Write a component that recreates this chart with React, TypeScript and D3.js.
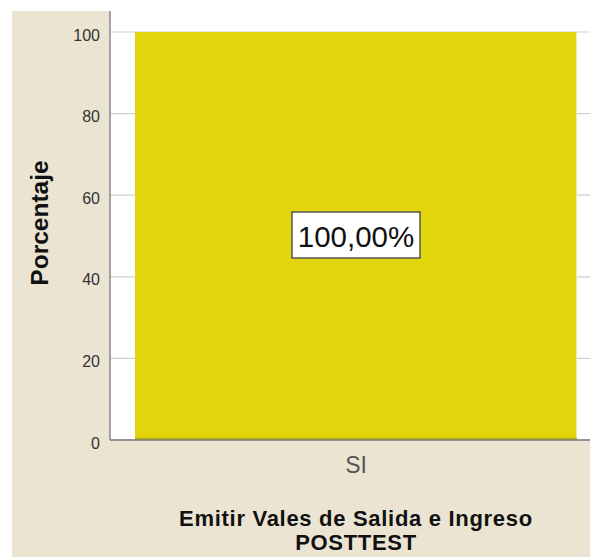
import React from "react";
import * as d3 from "d3";

const categories = ["SI"];
const values = [100];
const valueLabels = ["100,00%"];
const yTicks = [0, 20, 40, 60, 80, 100];
const xTitleLines = ["Emitir Vales de Salida e Ingreso", "POSTTEST"];
const yTitle = "Porcentaje";

export default function App() {
  const W = 590, H = 557;
  const plotLeft = 110, plotRight = 590, plotTop = 11, plotBottom = 440;
  const y = d3.scaleLinear().domain([0, 100]).range([plotBottom, 32]);
  const x = d3.scaleBand<string>().domain(categories).range([135, 577]).paddingInner(0).paddingOuter(0);
  const font = "Arial, 'Liberation Sans', sans-serif";
  return (
    <svg width={W} height={H} style={{ position: "absolute", left: 0, top: 0, background: "#fff" }} fontFamily={font}>
      <rect x={12} y={11} width={W - 12} height={H - 11} fill="#ebe4d2" />
      <rect x={plotLeft} y={plotTop} width={plotRight - plotLeft} height={plotBottom - plotTop} fill="#ffffff" />
      {yTicks.map((t) => (
        <g key={t}>
          <line x1={plotLeft} x2={plotRight} y1={y(t)} y2={y(t)} stroke="#d0d0d0" strokeWidth={1.2} />
          <text x={100} y={y(t) + 8.5} textAnchor="end" fontSize={16} fill="#333">{t}</text>
        </g>
      ))}
      {categories.map((c, i) => (
        <g key={c}>
          <rect x={x(c)!} y={y(values[i])} width={x.bandwidth()} height={y(0) - y(values[i])} fill="#e2d50e" />
          <line x1={x(c)! + x.bandwidth() - 0.5} x2={x(c)! + x.bandwidth() - 0.5} y1={y(values[i])} y2={y(0)} stroke="#f3ec9a" strokeWidth={1} />
          <line x1={x(c)!} x2={x(c)! + x.bandwidth()} y1={y(0) - 1.5} y2={y(0) - 1.5} stroke="#b8ad10" strokeWidth={1.5} />
          <rect x={x(c)! + x.bandwidth() / 2 - 64} y={y(values[i] / 2) - 24} width={128} height={46} fill="#fff" stroke="#555" strokeWidth={1.5} />
          <text x={x(c)! + x.bandwidth() / 2} y={y(values[i] / 2) + 10.5} textAnchor="middle" fontSize={29.5} fill="#111">{valueLabels[i]}</text>
          <text x={x(c)! + x.bandwidth() / 2} y={473} textAnchor="middle" fontSize={23} fill="#555">{c}</text>
        </g>
      ))}
      <line x1={plotLeft} x2={plotLeft} y1={plotTop} y2={plotBottom} stroke="#888" strokeWidth={1.5} />
      <line x1={plotLeft} x2={plotRight} y1={plotBottom} y2={plotBottom} stroke="#777" strokeWidth={1.5} />
      {xTitleLines.map((l, i) => (
        <text key={i} x={356} y={526 + i * 24} textAnchor="middle" fontSize={22} letterSpacing={0.7} fontWeight="bold" fill="#111">{l}</text>
      ))}
      <text transform={`translate(48,223) rotate(-90)`} textAnchor="middle" fontSize={24.5} fontWeight="bold" fill="#111">{yTitle}</text>
    </svg>
  );
}
